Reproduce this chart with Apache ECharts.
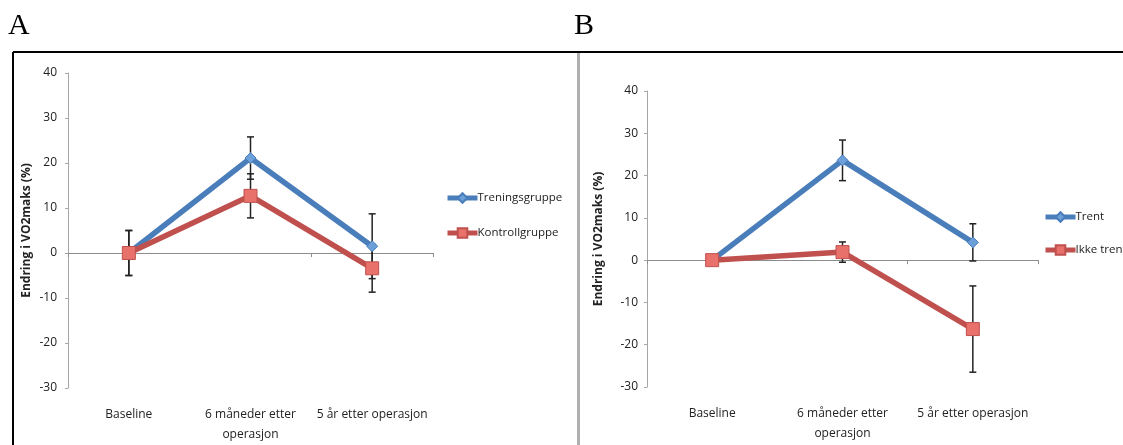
<!DOCTYPE html>
<html>
<head>
    <meta charset="UTF-8">
    <title>Endring i VO2maks</title>
    <script src="https://cdn.jsdelivr.net/npm/echarts@6/dist/echarts.min.js"></script>
    <style>
        html, body { margin: 0; padding: 0; background: #fff; }
        #main { width: 1123px; height: 445px; }
    </style>
</head>
<body>
<div id="main"></div>
<script>
    // kategorier (x-akse)
    var categories = ['Baseline', '6 måneder etter\noperasjon', '5 år etter operasjon'];
    var yTicks = [-30, -20, -10, 0, 10, 20, 30, 40];

    // panel A
    var namesA = ['Treningsgruppe', 'Kontrollgruppe'];
    var treningMean = [0, 21.1, 1.5];
    var treningErr = [5.0, 4.7, 7.2];
    var kontrollMean = [0, 12.7, -3.4];
    var kontrollErr = [5.0, 4.9, 5.3];

    // panel B
    var namesB = ['Trent', 'Ikke trent'];
    var trentMean = [0, 23.6, 4.2];
    var trentErr = [0, 4.8, 4.4];
    var ikkeMean = [0, 1.9, -16.3];
    var ikkeErr = [0, 2.4, 10.2];

    var blue = '#4a7ebb', red = '#c0504d';
    var font = '"Open Sans", sans-serif';

    function errData(mean, err) {
        var out = [];
        for (var i = 0; i < mean.length; i++) {
            if (err[i] > 0) out.push([i, mean[i] - err[i], mean[i] + err[i]]);
        }
        return out;
    }

    function renderErr(params, api) {
        var lo = api.coord([api.value(0), api.value(1)]);
        var hi = api.coord([api.value(0), api.value(2)]);
        var style = {stroke: '#222', lineWidth: 1.5};
        return {
            type: 'group',
            children: [
                {type: 'line', shape: {x1: lo[0], y1: lo[1], x2: hi[0], y2: hi[1]}, style: style},
                {type: 'line', shape: {x1: lo[0] - 3.5, y1: lo[1], x2: lo[0] + 3.5, y2: lo[1]}, style: style},
                {type: 'line', shape: {x1: hi[0] - 3.5, y1: hi[1], x2: hi[0] + 3.5, y2: hi[1]}, style: style}
            ]
        };
    }

    function lineSeries(name, data, idx, color, symbol, size, fill) {
        return {
            name: name,
            type: 'line',
            xAxisIndex: idx * 2,
            yAxisIndex: idx,
            data: data,
            symbol: symbol,
            symbolSize: size,
            z: 3,
            lineStyle: {color: color, width: 5.5},
            itemStyle: {color: fill, borderColor: color, borderWidth: 1},
            emphasis: {disabled: true}
        };
    }

    function errSeries(mean, err, idx) {
        return {
            type: 'custom',
            xAxisIndex: idx * 2,
            yAxisIndex: idx,
            data: errData(mean, err),
            renderItem: renderErr,
            z: 2,
            silent: true
        };
    }

    function xAxes(gridIndex) {
        return [
            {
                // aksen som ligger på null
                type: 'category',
                gridIndex: gridIndex,
                data: categories,
                boundaryGap: true,
                axisLine: {onZero: true, lineStyle: {color: '#8c8c8c', width: 1}},
                axisTick: {show: true, length: 4, lineStyle: {color: '#8c8c8c'}},
                axisLabel: {show: false},
                splitLine: {show: false}
            },
            {
                // bare etikettene nederst
                type: 'category',
                gridIndex: gridIndex,
                data: categories,
                position: 'bottom',
                axisLine: {show: false, onZero: false},
                axisTick: {show: false},
                axisLabel: {interval: 0, margin: 17, fontSize: 12, lineHeight: 20, color: '#222', fontFamily: font},
                splitLine: {show: false}
            }
        ];
    }

    function yAxis(gridIndex, labelMargin, nameGap) {
        return {
            type: 'value',
            gridIndex: gridIndex,
            min: yTicks[0],
            max: yTicks[yTicks.length - 1],
            interval: 10,
            name: 'Endring i VO2maks (%)',
            nameLocation: 'middle',
            nameGap: nameGap,
            nameTextStyle: {fontSize: 12, fontWeight: 'bold', color: '#222', fontFamily: font},
            axisLine: {show: true, lineStyle: {color: '#a6a6a6'}},
            axisTick: {show: true, length: 3, lineStyle: {color: '#a6a6a6'}},
            axisLabel: {margin: labelMargin, fontSize: 12, color: '#222', fontFamily: font},
            splitLine: {show: false}
        };
    }

    function legend(names, left, top, gap) {
        return {
            data: names,
            orient: 'vertical',
            left: left,
            top: top,
            itemWidth: 30,
            itemHeight: 12,
            itemGap: gap,
            lineStyle: {width: 5},
            textStyle: {fontSize: 11.5, color: '#222', fontFamily: font, padding: [0, 0, 0, -5]}
        };
    }

    var myChart = echarts.init(document.getElementById('main'));
    var option = {
        animation: false,
        backgroundColor: '#fff',
        grid: [
            {left: 68, top: 73, width: 365, height: 315, outerBoundsMode: 'none', containLabel: false},
            {left: 647, top: 91, width: 391, height: 296, outerBoundsMode: 'none', containLabel: false}
        ],
        xAxis: xAxes(0).concat(xAxes(1)),
        yAxis: [yAxis(0, 11, 35), yAxis(1, 9, 42)],
        legend: [legend(namesA, 440, 187, 23), legend(namesB, 1038, 206, 21)],
        graphic: [
            {type: 'text', left: 8, top: 11, style: {text: 'A', font: '30px "Liberation Serif", serif', fill: '#000'}},
            {type: 'text', left: 574, top: 11, style: {text: 'B', font: '30px "Liberation Serif", serif', fill: '#000'}},
            {type: 'line', shape: {x1: 13, y1: 52, x2: 1123, y2: 52}, style: {stroke: '#000', lineWidth: 2}},
            {type: 'line', shape: {x1: 13, y1: 52, x2: 13, y2: 445}, style: {stroke: '#000', lineWidth: 2}},
            {type: 'line', shape: {x1: 578.5, y1: 53, x2: 578.5, y2: 445}, style: {stroke: '#b0b0b0', lineWidth: 3}}
        ],
        series: [
            errSeries(treningMean, treningErr, 0),
            errSeries(kontrollMean, kontrollErr, 0),
            lineSeries(namesA[0], treningMean, 0, blue, 'diamond', 11, '#6d9fd8'),
            lineSeries(namesA[1], kontrollMean, 0, red, 'rect', 13, '#e8716c'),
            errSeries(trentMean, trentErr, 1),
            errSeries(ikkeMean, ikkeErr, 1),
            lineSeries(namesB[0], trentMean, 1, blue, 'diamond', 11, '#6d9fd8'),
            lineSeries(namesB[1], ikkeMean, 1, red, 'rect', 13, '#e8716c')
        ]
    };
    myChart.setOption(option);
</script>
</body>
</html>
